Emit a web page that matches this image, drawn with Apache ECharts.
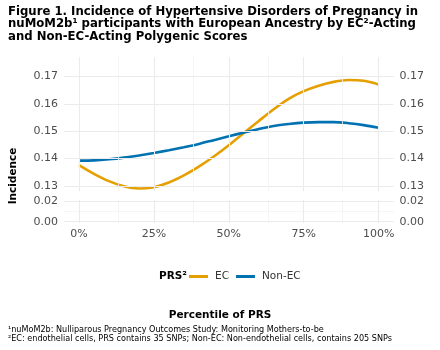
<!DOCTYPE html>
<html>
<head>
<meta charset="utf-8">
<script src="https://cdn.jsdelivr.net/npm/echarts@6/dist/echarts.min.js"></script>
<style>
  html, body { margin: 0; padding: 0; background: #fff; }
  #main { width: 440px; height: 350px; }
</style>
</head>
<body>
<div id="main"></div>
<script>
// percentile of PRS (0..1) and predicted incidence
var percentile = [0, 0.05, 0.10, 0.15, 0.20, 0.25, 0.30, 0.35, 0.40, 0.45, 0.50,
                  0.55, 0.60, 0.65, 0.70, 0.75, 0.80, 0.85, 0.90, 0.95, 1.00];
var ecValues = [0.1376, 0.1344, 0.1317, 0.1298, 0.1290, 0.1295, 0.1312, 0.1338, 0.1370, 0.1407, 0.1448,
                0.1493, 0.1537, 0.1580, 0.1618, 0.1646, 0.1666, 0.1680, 0.1687, 0.1684, 0.1671];
var nonEcValues = [0.1392, 0.1393, 0.1397, 0.1403, 0.1411, 0.1420, 0.1430, 0.1441, 0.1453, 0.1467, 0.1481,
                   0.1495, 0.1508, 0.1519, 0.1526, 0.1531, 0.1533, 0.1533, 0.1529, 0.1522, 0.1512];
var seriesNames = ['EC', 'Non-EC'];
var xTicks = [0, 0.25, 0.5, 0.75, 1];
var xMinor = [0.125, 0.375, 0.625, 0.875];
var yTicksTop = [0.13, 0.14, 0.15, 0.16, 0.17];
var yMinorTop = [0.135, 0.145, 0.155, 0.165, 0.175];
var yTicksBottom = [0, 0.02];
var yMinorBottom = [0.01];

var labelColor = '#4D4D4D';
var majorGrid = { color: '#EBEBEB', width: 1.1, type: 'solid' };
var minorGrid = { color: '#F3F3F3', width: 0.8, type: 'solid' };

function zip(xs, ys) {
    return xs.map(function (x, i) { return [x, ys[i]]; });
}

// grid lines drawn through markLine so they can span the padded panel
function gridLines(xMaj, xMin, yMaj, yMin) {
    var d = [];
    xMin.forEach(function (v) { d.push({ xAxis: v, lineStyle: minorGrid }); });
    yMin.forEach(function (v) { d.push({ yAxis: v, lineStyle: minorGrid }); });
    xMaj.forEach(function (v) { d.push({ xAxis: v, lineStyle: majorGrid }); });
    yMaj.forEach(function (v) { d.push({ yAxis: v, lineStyle: majorGrid }); });
    return {
        silent: true, symbol: 'none', label: { show: false },
        animation: false, data: d
    };
}

function yAxisDef(gridIndex, pos, min, max, ticks) {
    return {
        type: 'value', gridIndex: gridIndex, position: pos, min: min, max: max,
        axisLine: { show: false }, axisTick: { show: false }, splitLine: { show: false },
        axisLabel: {
            customValues: ticks, color: labelColor, fontSize: 11, margin: 6,
            fontFamily: 'DejaVu Sans',
            formatter: function (v) { return v.toFixed(2); }
        }
    };
}

var myChart = echarts.init(document.getElementById('main'), null, { renderer: 'canvas' });
var option = {
    animation: false,
    backgroundColor: '#fff',
    textStyle: { fontFamily: 'DejaVu Sans' },
    title: [{
        text: 'Figure 1. Incidence of Hypertensive Disorders of Pregnancy in\nnuMoM2b\u00b9 participants with European Ancestry by EC\u00b2-Acting\nand Non-EC-Acting Polygenic Scores',
        left: 8, top: 6, padding: 0,
        textStyle: { fontSize: 11.7, fontWeight: 'bold', color: '#000', lineHeight: 12.3, fontFamily: 'DejaVu Sans' }
    }, {
        text: 'PRS\u00b2', left: 159, top: 271, padding: 0,
        textStyle: { fontSize: 10.5, fontWeight: 'bold', color: '#000', fontFamily: 'DejaVu Sans' }
    }, {
        text: 'Percentile of PRS', left: 'center', top: 310, padding: 0,
        textStyle: { fontSize: 10.5, fontWeight: 'bold', color: '#000', fontFamily: 'DejaVu Sans' }
    }, {
        text: '\u00b9nuMoM2b: Nulliparous Pregnancy Outcomes Study: Monitoring Mothers-to-be\n\u00b2EC: endothelial cells, PRS contains 35 SNPs; Non-EC: Non-endothelial cells, contains 205 SNPs',
        left: 8, top: 325, padding: 0,
        textStyle: { fontSize: 8.1, fontWeight: 'normal', color: '#000', lineHeight: 9.5, fontFamily: 'DejaVu Sans' }
    }],
    graphic: [{
        type: 'text', x: 8, y: 176, rotation: Math.PI / 2,
        style: {
            text: 'Incidence', fontSize: 10.5, fontWeight: 'bold', fill: '#000',
            fontFamily: 'DejaVu Sans', align: 'center', verticalAlign: 'top'
        }
    }],
    legend: {
        data: seriesNames, left: 189, top: 271, padding: 0,
        icon: 'rect', itemWidth: 19, itemHeight: 3, itemGap: 7,
        textStyle: { fontSize: 10.5, color: '#333', fontFamily: 'DejaVu Sans', padding: [0, 0, 0, 2] }
    },
    grid: [
        { left: 64, right: 46.4, top: 57, height: 134 },
        { left: 64, right: 46.4, top: 200, height: 23 }
    ],
    xAxis: [{
        type: 'value', gridIndex: 0, min: -0.05, max: 1.05,
        axisLine: { show: false }, axisTick: { show: false },
        splitLine: { show: false }, axisLabel: { show: false }
    }, {
        type: 'value', gridIndex: 1, min: -0.05, max: 1.05,
        axisLine: { show: false }, axisTick: { show: false }, splitLine: { show: false },
        axisLabel: {
            customValues: xTicks, color: labelColor, fontSize: 11, margin: 6,
            fontFamily: 'DejaVu Sans',
            formatter: function (v) { return Math.round(v * 100) + '%'; }
        }
    }],
    yAxis: [
        yAxisDef(0, 'left', 0.1281, 0.1771, yTicksTop),
        yAxisDef(0, 'right', 0.1281, 0.1771, yTicksTop),
        yAxisDef(1, 'left', -0.0013, 0.021, yTicksBottom),
        yAxisDef(1, 'right', -0.0013, 0.021, yTicksBottom)
    ],
    series: [{
        name: 'grid-top', type: 'line', xAxisIndex: 0, yAxisIndex: 0, data: [],
        silent: true, z: 1,
        markLine: gridLines(xTicks, xMinor, yTicksTop, yMinorTop)
    }, {
        name: 'grid-bottom', type: 'line', xAxisIndex: 1, yAxisIndex: 2, data: [],
        silent: true, z: 1,
        markLine: gridLines(xTicks, xMinor, yTicksBottom, yMinorBottom)
    }, {
        name: seriesNames[0], type: 'line', xAxisIndex: 0, yAxisIndex: 0,
        data: zip(percentile, ecValues), smooth: 0.3, showSymbol: false, symbol: 'none',
        lineStyle: { color: '#E69F00', width: 2.6 }, itemStyle: { color: '#E69F00' }, z: 3
    }, {
        name: seriesNames[1], type: 'line', xAxisIndex: 0, yAxisIndex: 0,
        data: zip(percentile, nonEcValues), smooth: 0.3, showSymbol: false, symbol: 'none',
        lineStyle: { color: '#0072B2', width: 2.6 }, itemStyle: { color: '#0072B2' }, z: 3
    }]
};
myChart.setOption(option);
</script>
</body>
</html>
